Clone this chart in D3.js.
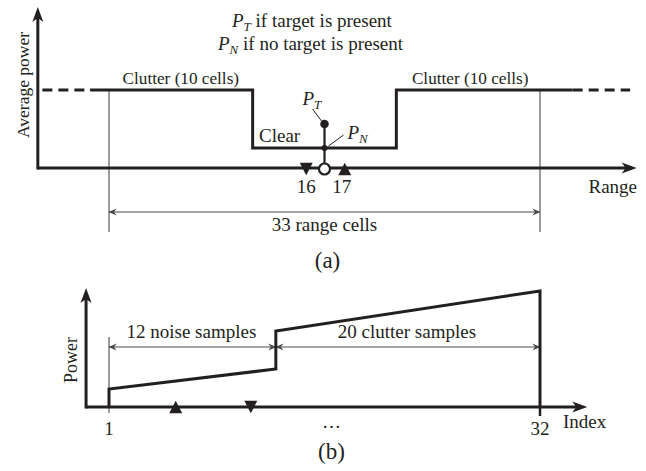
<!DOCTYPE html>
<html><head><meta charset="utf-8">
<script src="https://cdn.jsdelivr.net/npm/d3@7"></script>
<style>
body{margin:0;background:#fff}
svg{display:block;background:#fff}
text{font-family:"Liberation Serif","Times New Roman",serif;fill:#231f20}
</style>
</head><body><svg id="c" width="646" height="471"></svg>
<script>
// ---------------- Panel (a) data ----------------
const cellDomain = [0, 33];                 // 33 range cells (window)
const axisRangeA = [-5.45, 40.4];           // drawn extent of range axis
const powerAxisTopA = 8.05;                 // drawn top of power axis
const profileCells = [-1.45, 11, 11, 22, 22, 35.5];
const profilePower = [3.9, 3.9, 1, 1, 3.9, 3.9];
const dashCellsLeft = [-5.1, -1.45];
const dashCellsRight = [35.5, 39.9];
const clutterLevel = 3.9;
const cutCell = 16.5;                       // cell under test
const noisePower = 1;                       // P_N
const targetPower = 2.2;                    // P_T
const markerCellsA = [15.1, 18.05];
const markerTypesA = ["down", "up"];
const markerLabelsA = ["16", "17"];
const clutterLabelCells = [5.5, 27.65];
const clutterLabels = ["Clutter (10 cells)", "Clutter (10 cells)"];

// ---------------- Panel (b) data ----------------
const indexDomain = [1, 32];
const axisRangeB = [-0.65, 35.4];
const powerAxisTopB = 11.9;
const sampleIndex = [1, 1, 13, 13, 32, 32];
const samplePower = [0, 1.8, 3.8, 7.6, 11.6, 0];
const groupBounds = [[1, 13], [13, 32]];
const groupLabels = ["12 noise samples", "20 clutter samples"];
const markerIdxB = [5.8, 11.2];
const markerTypesB = ["up", "down"];
const tickIdxB = [1, 32];
const tickLabelsB = ["1", "32"];

const svg = d3.select("#c");
const ink = "#231f20", thin = "#4a4a4a";

const defs = svg.append("defs");
defs.append("marker").attr("id","dimArrow").attr("viewBox","0 -5 10 10")
  .attr("refX",9.5).attr("refY",0).attr("markerWidth",9).attr("markerHeight",9)
  .attr("markerUnits","userSpaceOnUse").attr("orient","auto-start-reverse")
  .append("path").attr("d","M1,-4 L10,0 L1,4 L4,0 Z").attr("fill",thin);

function axisHeadUp(g, x, y){
  g.append("path").attr("d",`M${x},${y} L${x-5.5},${y+15} L${x},${y+11} L${x+5.5},${y+15} Z`).attr("fill",ink);
}
function axisHeadRight(g, x, y){
  g.append("path").attr("d",`M${x},${y} L${x-15},${y-5.5} L${x-11},${y} L${x-15},${y+5.5} Z`).attr("fill",ink);
}
function triangle(type, x, y, s){
  const h = s*0.95;
  return type === "down"
    ? `M${x-s/2},${y-h/2} L${x+s/2},${y-h/2} L${x},${y+h/2} Z`
    : `M${x-s/2},${y+h/2} L${x+s/2},${y+h/2} L${x},${y-h/2} Z`;
}

// ================= Panel (a) =================
const xA = d3.scaleLinear().domain(cellDomain).range([109, 540]);
const yA = d3.scaleLinear().domain([0, clutterLevel]).range([168, 90]);
const gA = svg.append("g");

// thin window boundaries
cellDomain.forEach(c => {
  gA.append("line").attr("x1",xA(c)).attr("x2",xA(c))
    .attr("y1",yA(clutterLevel)).attr("y2",yA(-3.2))
    .attr("stroke",thin).attr("stroke-width",1.1);
});
// 33 range cells dimension arrow
gA.append("line").attr("x1",xA(cellDomain[0])).attr("x2",xA(cellDomain[1]))
  .attr("y1",yA(-2.2)).attr("y2",yA(-2.2))
  .attr("stroke",thin).attr("stroke-width",1.1)
  .attr("marker-start","url(#dimArrow)").attr("marker-end","url(#dimArrow)");
gA.append("text").attr("x",xA(d3.mean(cellDomain))).attr("y",yA(-3.15))
  .attr("text-anchor","middle").attr("font-size",19).text("33 range cells");

// axes
gA.append("line").attr("x1",xA(axisRangeA[0])).attr("x2",xA(axisRangeA[1])-8)
  .attr("y1",yA(0)).attr("y2",yA(0)).attr("stroke",ink).attr("stroke-width",3);
gA.append("line").attr("x1",xA(axisRangeA[0])).attr("x2",xA(axisRangeA[0]))
  .attr("y1",yA(0)+1.5).attr("y2",yA(powerAxisTopA)+8).attr("stroke",ink).attr("stroke-width",3);
axisHeadUp(gA, xA(axisRangeA[0]), yA(powerAxisTopA));
axisHeadRight(gA, xA(axisRangeA[1]), yA(0));

// power profile
const lineA = d3.line().x(d => xA(d[0])).y(d => yA(d[1]));
gA.append("path").attr("d", lineA(profileCells.map((c,i)=>[c, profilePower[i]])))
  .attr("fill","none").attr("stroke",ink).attr("stroke-width",3);
[dashCellsLeft, dashCellsRight].forEach(seg => {
  gA.append("path").attr("d", lineA(seg.map(c=>[c, clutterLevel])))
    .attr("fill","none").attr("stroke",ink).attr("stroke-width",3)
    .attr("stroke-dasharray","10,6");
});

// cell under test stem
gA.append("line").attr("x1",xA(cutCell)).attr("x2",xA(cutCell))
  .attr("y1",yA(targetPower)).attr("y2",yA(0)-5)
  .attr("stroke",ink).attr("stroke-width",2.2);
gA.append("circle").attr("cx",xA(cutCell)).attr("cy",yA(targetPower)).attr("r",4.3).attr("fill",ink);
gA.append("circle").attr("cx",xA(cutCell)).attr("cy",yA(noisePower)).attr("r",3).attr("fill",ink);
gA.append("circle").attr("cx",xA(cutCell)).attr("cy",yA(0)+1).attr("r",5.5)
  .attr("fill","#fff").attr("stroke",ink).attr("stroke-width",2.2);

// leader lines
gA.append("line").attr("x1",xA(cutCell)-12).attr("y1",yA(targetPower)-15)
  .attr("x2",xA(cutCell)-3).attr("y2",yA(targetPower)-3).attr("stroke",ink).attr("stroke-width",1);
gA.append("line").attr("x1",xA(cutCell)+19).attr("y1",yA(noisePower)-13)
  .attr("x2",xA(cutCell)+4).attr("y2",yA(noisePower)-2).attr("stroke",ink).attr("stroke-width",1);

// markers 16 / 17
markerCellsA.forEach((c,i) => {
  gA.append("path").attr("d", triangle(markerTypesA[i], xA(c), yA(0)+1, 13)).attr("fill",ink);
  gA.append("text").attr("x", xA(c) + (i===0?0:-3)).attr("y", yA(0)+25)
    .attr("text-anchor","middle").attr("font-size",19).text(markerLabelsA[i]);
});

// labels
clutterLabelCells.forEach((c,i) => {
  gA.append("text").attr("x",xA(c)).attr("y",yA(clutterLevel)-6)
    .attr("text-anchor","middle").attr("font-size",17.2).text(clutterLabels[i]);
});
gA.append("text").attr("x",259).attr("y",yA(noisePower)-6)
  .attr("font-size",19).text("Clear");

const ptLab = gA.append("text").attr("x",xA(cutCell)-22).attr("y",yA(targetPower)-19).attr("font-size",19);
ptLab.append("tspan").attr("font-style","italic").text("P");
ptLab.append("tspan").attr("font-style","italic").attr("font-size",13).attr("dy",4).text("T");
const pnLab = gA.append("text").attr("x",xA(cutCell)+23).attr("y",yA(noisePower)-9).attr("font-size",19);
pnLab.append("tspan").attr("font-style","italic").text("P");
pnLab.append("tspan").attr("font-style","italic").attr("font-size",13).attr("dy",4).text("N");

const t1 = gA.append("text").attr("x",232).attr("y",27).attr("font-size",19);
t1.append("tspan").attr("font-style","italic").text("P");
t1.append("tspan").attr("font-style","italic").attr("font-size",13).attr("dy",4).text("T");
t1.append("tspan").attr("dy",-4).text(" if target is present");
const t2 = gA.append("text").attr("x",218).attr("y",50).attr("font-size",19);
t2.append("tspan").attr("font-style","italic").text("P");
t2.append("tspan").attr("font-style","italic").attr("font-size",13).attr("dy",4).text("N");
t2.append("tspan").attr("dy",-4).text(" if no target is present");

gA.append("text").attr("transform","translate(29,85) rotate(-90)")
  .attr("text-anchor","middle").attr("font-size",17.5).text("Average power");
gA.append("text").attr("x",637).attr("y",193).attr("text-anchor","end")
  .attr("font-size",19).text("Range");
gA.append("text").attr("x",xA(cutCell)+3).attr("y",268).attr("text-anchor","middle")
  .attr("font-size",23).text("(a)");

// ================= Panel (b) =================
const xB = d3.scaleLinear().domain(indexDomain).range([109, 540]);
const yB = d3.scaleLinear().domain([0, d3.max(samplePower)]).range([407, 291]);
const gB = svg.append("g");

// thin start line at index 1
gB.append("line").attr("x1",xB(tickIdxB[0])).attr("x2",xB(tickIdxB[0]))
  .attr("y1",yB(7)).attr("y2",yB(0)+6).attr("stroke",thin).attr("stroke-width",1.1);

// group arrows
groupBounds.forEach((b,i) => {
  gB.append("line").attr("x1",xB(b[0])).attr("x2",xB(b[1]))
    .attr("y1",yB(6)).attr("y2",yB(6)).attr("stroke",thin).attr("stroke-width",1.1)
    .attr("marker-start","url(#dimArrow)").attr("marker-end","url(#dimArrow)");
  gB.append("text").attr("x",(xB(b[0])+xB(b[1]))/2 - 1).attr("y",yB(6.9))
    .attr("text-anchor","middle").attr("font-size",19).text(groupLabels[i]);
});

// axes
gB.append("line").attr("x1",xB(axisRangeB[0])).attr("x2",xB(axisRangeB[1])-8)
  .attr("y1",yB(0)).attr("y2",yB(0)).attr("stroke",ink).attr("stroke-width",3);
gB.append("line").attr("x1",xB(axisRangeB[0])).attr("x2",xB(axisRangeB[0]))
  .attr("y1",yB(0)+1.5).attr("y2",yB(powerAxisTopB)+8).attr("stroke",ink).attr("stroke-width",3);
axisHeadUp(gB, xB(axisRangeB[0]), yB(powerAxisTopB));
axisHeadRight(gB, xB(axisRangeB[1]), yB(0));

// power samples profile
const lineB = d3.line().x(d => xB(d[0])).y(d => yB(d[1]));
gB.append("path").attr("d", lineB(sampleIndex.map((c,i)=>[c, samplePower[i]])))
  .attr("fill","none").attr("stroke",ink).attr("stroke-width",3).attr("stroke-linejoin","miter");
gB.append("line").attr("x1",xB(tickIdxB[1])).attr("x2",xB(tickIdxB[1]))
  .attr("y1",yB(0)).attr("y2",yB(0)+9).attr("stroke",ink).attr("stroke-width",2.5);

// markers
markerIdxB.forEach((c,i) => {
  gB.append("path").attr("d", triangle(markerTypesB[i], xB(c), yB(0), 13)).attr("fill",ink);
});

// tick labels
tickIdxB.forEach((c,i) => {
  gB.append("text").attr("x",xB(c)).attr("y",435).attr("text-anchor","middle")
    .attr("font-size",19).text(tickLabelsB[i]);
});
gB.append("text").attr("x",xB(17)).attr("y",428).attr("text-anchor","middle")
  .attr("font-size",19).text("\u2026");
gB.append("text").attr("x",563).attr("y",428).attr("font-size",19).text("Index");
gB.append("text").attr("transform","translate(77,360) rotate(-90)")
  .attr("text-anchor","middle").attr("font-size",18).text("Power");
gB.append("text").attr("x",xB(17)).attr("y",459).attr("text-anchor","middle")
  .attr("font-size",23).text("(b)");
</script>
</body></html>
